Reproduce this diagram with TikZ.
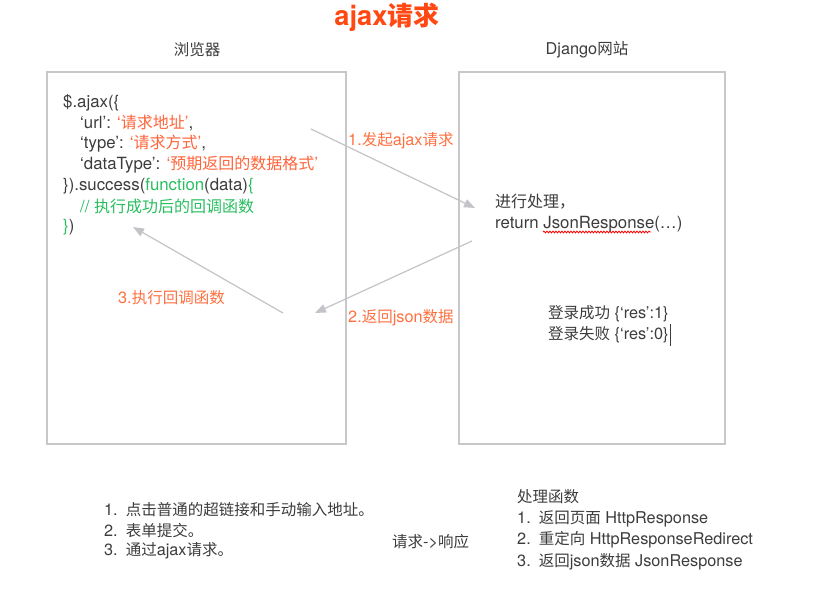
\documentclass[tikz,border=0pt]{standalone}
\usepackage{fontspec}
\setmainfont{TeX Gyre Heros}[Scale=1.05]
\newfontfamily\cjk{Noto Sans CJK SC}
\newcommand{\zh}[1]{{\cjk #1}}
\usetikzlibrary{arrows.meta}
\usetikzlibrary{decorations.pathmorphing}
\definecolor{textgray}{RGB}{60,60,60}
\definecolor{boxgray}{RGB}{200,200,202}
\definecolor{arrowgray}{RGB}{195,195,200}
\definecolor{labelorange}{RGB}{255,112,64}
\definecolor{strorange}{RGB}{255,100,58}
\definecolor{fungreen}{RGB}{40,190,95}
\definecolor{titlered}{RGB}{255,72,18}
\newcommand{\str}[1]{\textcolor{strorange}{#1}}
\newcommand{\fn}[1]{\textcolor{fungreen}{#1}}

\begin{document}
\begin{tikzpicture}[x=1pt,y=-1pt,
    txt/.style={anchor=west,inner sep=0pt,text=textgray,font=\fontsize{15.5}{18}\selectfont},
    code/.style={txt,font=\fontsize{16}{18}\selectfont},
    lbl/.style={txt,text=labelorange},
    flow/.style={draw=arrowgray,line width=1.2pt,-{Triangle[length=11pt,width=8.5pt]}},
    frame/.style={draw=boxgray,line width=1.5pt,inner sep=0pt}]
  \useasboundingbox (0,0) rectangle (831,602);
  % title and column heads
  \node[inner sep=0pt,text=titlered,font=\fontsize{26}{28}\selectfont\bfseries] (title) at (387,17) {ajax\zh{请求}};
  \node[txt,anchor=center] (browser) at (197,50) {\zh{浏览器}};
  \node[txt,anchor=center] (site) at (587,50) {Django\zh{网站}};
  \node[frame,minimum width=299pt,minimum height=372pt] (left) at (196.5,258) {};
  \node[frame,minimum width=266pt,minimum height=372pt] (right) at (592,258) {};
  % browser code
  \node[code] (c1) at (63,103) {\$.ajax(\{};
  \node[code] (c2) at (80,123) {‘url’: \str{‘\zh{请求地址}’},};
  \node[code] (c3) at (80,144) {‘type’: \str{‘\zh{请求方式}’},};
  \node[code] (c4) at (80,165) {‘dataType’: \str{‘\zh{预期返回的数据格式}’}};
  \node[code] (c5) at (63,186) {\}).success(\fn{function}(data)\fn{\{}};
  \node[code,text=fungreen] (c6) at (80,206) {// \zh{执行成功后的回调函数}};
  \node[code] (c7) at (63,227) {\fn{\}})};
  % server side
  \node[code] (s1) at (495,202) {\zh{进行处理，}};
  \node[code] (s2) at (495,224) {return JsonResponse(\ldots)};
  \draw[red,line width=0.8pt,decorate,decoration={snake,amplitude=0.9pt,segment length=3pt}] (543,232) -- (651,232);
  \node[txt] (r1) at (548,314) {\zh{登录成功} \{‘res’:1\}};
  \node[txt] (r2) at (548,335) {\zh{登录失败} \{‘res’:0\}};
  \draw[textgray,line width=0.6pt] (r2.east) ++(2,-11) -- ++(0,22);
  % arrows
  \coordinate (a1s) at (311,129);
  \coordinate (a1e) at (475,208);
  \coordinate (a2s) at (472,241);
  \coordinate (a2e) at (315,313);
  \coordinate (a3s) at (283,313);
  \coordinate (a3e) at (133,227);
  \draw[flow] (a1s) -- (a1e);
  \draw[flow] (a2s) -- (a2e);
  \draw[flow] (a3s) -- (a3e);
  \node[lbl] (l1) at (348,141) {1.\zh{发起}ajax\zh{请求}};
  \node[lbl] (l2) at (348,318) {2.\zh{返回}json\zh{数据}};
  \node[lbl] (l3) at (118,298) {3.\zh{执行回调函数}};
  % notes below
  \node[txt] (n1) at (104,510) {1.\hspace{8pt}\zh{点击普通的超链接和手动输入地址。}};
  \node[txt] (n2) at (104,531) {2.\hspace{8pt}\zh{表单提交。}};
  \node[txt] (n3) at (104,551) {3.\hspace{8pt}\zh{通过}ajax\zh{请求。}};
  \node[txt] (rr) at (392,542) {\zh{请求}->\zh{响应}};
  \node[txt] (h0) at (517,497) {\zh{处理函数}};
  \node[txt] (h1) at (517,519) {1.\hspace{8pt}\zh{返回页面} HttpResponse};
  \node[txt] (h2) at (517,540) {2.\hspace{8pt}\zh{重定向} HttpResponseRedirect};
  \node[txt] (h3) at (517,562) {3.\hspace{8pt}\zh{返回}json\zh{数据} JsonResponse};
\end{tikzpicture}
\end{document}
